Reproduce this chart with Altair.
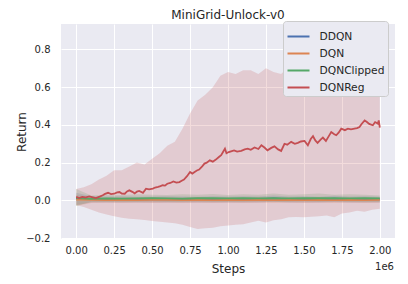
import altair as alt
import pandas as pd

SERIES = ["DDQN", "DQN", "DQNClipped", "DQNReg"]
COLORS = ["#4C72B0", "#DD8452", "#55A868", "#C44E52"]

# Steps in units of 1e6
REG_X = [0.00, 0.02, 0.04, 0.06, 0.085, 0.11, 0.13, 0.155, 0.175, 0.19, 0.21, 0.23, 0.25, 0.27,
         0.285, 0.30, 0.32, 0.335, 0.35, 0.37, 0.385, 0.40, 0.415, 0.44, 0.46, 0.48, 0.505, 0.52,
         0.54, 0.555, 0.57, 0.585, 0.60, 0.62, 0.64, 0.66, 0.68, 0.695, 0.71, 0.73, 0.75, 0.765,
         0.78, 0.795, 0.81, 0.83, 0.845, 0.86, 0.88, 0.90, 0.92, 0.94, 0.955, 0.97, 0.98, 0.99,
         1.005, 1.02, 1.04, 1.06, 1.087, 1.11, 1.13, 1.15, 1.175, 1.20, 1.22, 1.24, 1.26, 1.285,
         1.306, 1.33, 1.35, 1.372, 1.39, 1.416, 1.44, 1.46, 1.48, 1.504, 1.526, 1.545, 1.56, 1.575,
         1.59, 1.61, 1.625, 1.645, 1.66, 1.68, 1.70, 1.713, 1.73, 1.746, 1.77, 1.79, 1.81, 1.833,
         1.85, 1.866, 1.88, 1.90, 1.915, 1.93, 1.954, 1.969, 1.987, 1.993, 2.00]
REG_Y = [0.018, 0.012, 0.018, 0.015, 0.021, 0.016, 0.012, 0.020, 0.027, 0.034, 0.040, 0.033, 0.035, 0.042,
         0.044, 0.036, 0.035, 0.047, 0.053, 0.045, 0.037, 0.046, 0.050, 0.040, 0.062, 0.058, 0.062, 0.068,
         0.071, 0.075, 0.080, 0.078, 0.088, 0.092, 0.100, 0.094, 0.097, 0.104, 0.110, 0.128, 0.150, 0.142,
         0.150, 0.158, 0.163, 0.180, 0.195, 0.200, 0.212, 0.205, 0.216, 0.230, 0.239, 0.260, 0.274, 0.250,
         0.256, 0.260, 0.265, 0.258, 0.262, 0.270, 0.274, 0.268, 0.280, 0.272, 0.292, 0.280, 0.265, 0.278,
         0.286, 0.270, 0.262, 0.300, 0.295, 0.310, 0.300, 0.305, 0.312, 0.315, 0.292, 0.325, 0.340, 0.318,
         0.305, 0.322, 0.333, 0.315, 0.335, 0.362, 0.350, 0.345, 0.360, 0.380, 0.372, 0.380, 0.376, 0.380,
         0.383, 0.389, 0.405, 0.424, 0.415, 0.405, 0.398, 0.415, 0.407, 0.424, 0.386]

REG_BAND_X = [0.00, 0.05, 0.10, 0.15, 0.20, 0.25, 0.30, 0.35, 0.40, 0.45, 0.50, 0.55, 0.60, 0.65,
              0.70, 0.75, 0.80, 0.85, 0.90, 0.95, 1.00, 1.05, 1.10, 1.15, 1.20, 1.25, 1.30, 1.35,
              1.40, 1.45, 1.50, 1.55, 1.60, 1.65, 1.70, 1.75, 1.80, 1.85, 1.90, 1.95, 2.00]
REG_UP = [0.060, 0.070, 0.085, 0.110, 0.130, 0.160, 0.160, 0.180, 0.200, 0.190, 0.220, 0.250, 0.290, 0.310,
          0.380, 0.460, 0.530, 0.560, 0.600, 0.660, 0.680, 0.670, 0.690, 0.690, 0.670, 0.700, 0.680, 0.670,
          0.710, 0.720, 0.760, 0.780, 0.790, 0.800, 0.810, 0.820, 0.830, 0.840, 0.850, 0.860, 0.875]
REG_LO = [-0.025, -0.035, -0.050, -0.065, -0.075, -0.085, -0.092, -0.097, -0.100, -0.104, -0.110, -0.113,
          -0.118, -0.122, -0.130, -0.142, -0.152, -0.148, -0.145, -0.138, -0.133, -0.130, -0.127, -0.118,
          -0.108, -0.117, -0.105, -0.100, -0.090, -0.088, -0.090, -0.087, -0.085, -0.080, -0.090, -0.070,
          -0.065, -0.055, -0.060, -0.050, -0.045]

BASE_X = [0.0, 0.1, 0.2, 0.3, 0.4, 0.5, 0.6, 0.7, 0.8, 0.9, 1.0, 1.1, 1.2, 1.3, 1.4, 1.5, 1.6, 1.7,
          1.8, 1.9, 2.0]
DDQN_Y = [0.010, 0.006, 0.005, 0.006, 0.004, 0.005, 0.006, 0.005, 0.004, 0.006, 0.005, 0.006, 0.005,
          0.010, 0.005, 0.006, 0.004, 0.009, 0.005, 0.006, 0.005]
DDQN_UP = [0.040, 0.022, 0.020, 0.022, 0.019, 0.020, 0.022, 0.020, 0.019, 0.022, 0.020, 0.022, 0.020,
           0.025, 0.020, 0.022, 0.019, 0.024, 0.020, 0.022, 0.019]
DDQN_LO = [-0.025, -0.012, -0.011, -0.011, -0.012, -0.011, -0.011, -0.012, -0.012, -0.011, -0.011,
           -0.011, -0.012, -0.008, -0.011, -0.011, -0.012, -0.009, -0.011, -0.011, -0.012]
DQN_Y = [0.004, 0.002, 0.001, 0.002, 0.001, 0.002, 0.002, 0.001, 0.002, 0.001, 0.002, 0.001, 0.002,
         0.001, 0.002, 0.001, 0.002, 0.001, 0.002, 0.001, 0.002]
DQN_UP = [0.030, 0.016, 0.014, 0.015, 0.014, 0.016, 0.015, 0.014, 0.016, 0.014, 0.015, 0.014, 0.016,
          0.014, 0.015, 0.014, 0.016, 0.014, 0.015, 0.014, 0.015]
DQN_LO = [-0.030, -0.014, -0.013, -0.014, -0.013, -0.014, -0.013, -0.014, -0.013, -0.014, -0.013,
          -0.014, -0.013, -0.014, -0.013, -0.014, -0.013, -0.014, -0.013, -0.014, -0.013]
CLIP_Y = [0.012, 0.008, 0.010, 0.009, 0.010, 0.011, 0.010, 0.009, 0.011, 0.012, 0.010, 0.011, 0.010,
          0.012, 0.010, 0.011, 0.012, 0.011, 0.010, 0.011, 0.010]
CLIP_UP = [0.060, 0.026, 0.030, 0.028, 0.032, 0.030, 0.028, 0.032, 0.030, 0.034, 0.028, 0.032, 0.030,
           0.036, 0.030, 0.032, 0.036, 0.030, 0.032, 0.030, 0.026]
CLIP_LO = [-0.030, -0.008, -0.007, -0.008, -0.007, -0.006, -0.007, -0.008, -0.006, -0.007, -0.008,
           -0.007, -0.006, -0.007, -0.008, -0.006, -0.007, -0.006, -0.008, -0.007, -0.008]

X_TICKS = [0.0, 0.25, 0.5, 0.75, 1.0, 1.25, 1.5, 1.75, 2.0]
Y_TICKS = [-0.2, 0.0, 0.2, 0.4, 0.6, 0.8]

line_rows = []
for name, xs, ys in [("DDQN", BASE_X, DDQN_Y), ("DQN", BASE_X, DQN_Y),
                     ("DQNClipped", BASE_X, CLIP_Y), ("DQNReg", REG_X, REG_Y)]:
    for x, y in zip(xs, ys):
        line_rows.append({"series": name, "steps": x, "ret": y})
lines_df = pd.DataFrame(line_rows)

band_rows = []
for name, xs, lo, up in [("DDQN", BASE_X, DDQN_LO, DDQN_UP), ("DQN", BASE_X, DQN_LO, DQN_UP),
                         ("DQNClipped", BASE_X, CLIP_LO, CLIP_UP), ("DQNReg", REG_BAND_X, REG_LO, REG_UP)]:
    for x, l, u in zip(xs, lo, up):
        band_rows.append({"series": name, "steps": x, "lo": l, "hi": u})
bands_df = pd.DataFrame(band_rows)

color_scale = alt.Scale(domain=SERIES, range=COLORS)
x_scale = alt.Scale(domain=[-0.1, 2.1], nice=False, zero=False)
y_scale = alt.Scale(domain=[-0.205, 0.935], nice=False, zero=False)

x_axis = alt.Axis(values=X_TICKS, format=".2f", title="Steps", labelPadding=6, titlePadding=8)
y_axis = alt.Axis(values=Y_TICKS, format=".1f", title="Return", labelPadding=11, titlePadding=-3)

bands = alt.Chart(bands_df).mark_area(opacity=0.2).encode(
    x=alt.X("steps:Q", scale=x_scale, axis=x_axis),
    y=alt.Y("lo:Q", scale=y_scale, axis=y_axis),
    y2="hi:Q",
    color=alt.Color("series:N", scale=color_scale, legend=None),
    detail="series:N",
)

legend = alt.Legend(
    title=None, orient="none", legendX=222, legendY=-3,
    symbolType="stroke", symbolStrokeWidth=2, symbolSize=484, labelOffset=9,
    labelFont="DejaVu Sans", labelFontSize=10.7, labelColor="#262626",
    fillColor="#EAEAF2", strokeColor="#CCCCCC", cornerRadius=3,
    padding=3.5, rowPadding=-0.4, zindex=1,
)

lines = alt.Chart(lines_df).mark_line(strokeWidth=1.8).encode(
    x=alt.X("steps:Q", scale=x_scale),
    y=alt.Y("ret:Q", scale=y_scale),
    color=alt.Color("series:N", scale=color_scale, sort=SERIES, legend=legend),
)

offset_text = alt.Chart(pd.DataFrame({"t": ["1e6"]})).mark_text(
    align="right", baseline="middle", font="DejaVu Sans", fontSize=10, color="#262626"
).encode(text="t:N", x=alt.value(333), y=alt.value(243))

chart = alt.layer(bands, lines, offset_text).resolve_legend(
    color="independent"
).properties(
    width=334, height=215,
    title=alt.TitleParams("MiniGrid-Unlock-v0", font="DejaVu Sans", fontSize=12,
                          fontWeight="normal", color="#262626", offset=-1),
    padding={"left": 53, "top": 16, "right": 5, "bottom": 37},
    autosize=alt.AutoSizeParams(type="none"),
).configure_view(
    fill="#EAEAF2", stroke=None
).configure_axis(
    domain=False, ticks=False, gridColor="#FFFFFF", gridWidth=1, gridOpacity=1,
    labelFont="DejaVu Sans", labelFontSize=10, labelColor="#262626",
    titleFont="DejaVu Sans", titleFontSize=12, titleFontWeight="normal", titleColor="#262626",
)

chart.save("out.html", embed_options={"renderer": "svg", "actions": False})
